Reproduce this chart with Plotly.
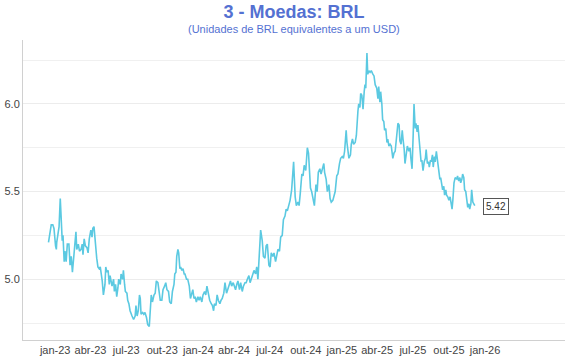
import plotly.graph_objects as go

dates = [
"2022-12-15","2022-12-22","2022-12-26","2022-12-29","2023-01-02","2023-01-04","2023-01-05","2023-01-08","2023-01-11","2023-01-14",
"2023-01-16","2023-01-19","2023-01-21","2023-01-24","2023-01-26","2023-01-29","2023-02-01","2023-02-05","2023-02-08","2023-02-11",
"2023-02-14","2023-02-17","2023-02-20","2023-02-23","2023-02-25","2023-03-01","2023-03-04","2023-03-08","2023-03-11","2023-03-13",
"2023-03-16","2023-03-19","2023-03-23","2023-03-26","2023-03-29","2023-04-02","2023-04-05","2023-04-07","2023-04-10","2023-04-12",
"2023-04-15","2023-04-17","2023-04-20","2023-04-23","2023-04-26","2023-04-28","2023-05-01","2023-05-04","2023-05-08","2023-05-10",
"2023-05-13","2023-05-16","2023-05-19","2023-05-21","2023-05-24","2023-05-26","2023-05-30","2023-06-01","2023-06-04","2023-06-07",
"2023-06-10","2023-06-12","2023-06-16","2023-06-18","2023-06-22","2023-06-24","2023-06-27","2023-06-29","2023-07-03","2023-07-05",
"2023-07-08","2023-07-11","2023-07-16","2023-07-20","2023-07-24","2023-07-26","2023-07-29","2023-08-01","2023-08-04",
"2023-08-06","2023-08-08","2023-08-12","2023-08-15","2023-08-18","2023-08-22","2023-08-25","2023-08-29","2023-08-31","2023-09-03",
"2023-09-06","2023-09-10","2023-09-13","2023-09-16","2023-09-20","2023-09-23","2023-09-26","2023-09-30","2023-10-03","2023-10-07",
"2023-10-10","2023-10-13","2023-10-17","2023-10-20","2023-10-24","2023-10-27","2023-10-31","2023-11-02","2023-11-05","2023-11-07",
"2023-11-10","2023-11-12","2023-11-15","2023-11-17","2023-11-20","2023-11-23","2023-11-26","2023-11-28","2023-12-02","2023-12-05",
"2023-12-09","2023-12-12","2023-12-15","2023-12-18","2023-12-21","2023-12-24","2023-12-27","2023-12-31","2024-01-03","2024-01-06",
"2024-01-10","2024-01-13","2024-01-17","2024-01-20","2024-01-23","2024-01-27","2024-01-30","2024-02-03","2024-02-06","2024-02-09",
"2024-02-11","2024-02-15","2024-02-18","2024-02-21","2024-02-25","2024-02-28","2024-03-02","2024-03-06","2024-03-09","2024-03-13",
"2024-03-16","2024-03-20","2024-03-23","2024-03-26","2024-03-30","2024-04-02",
"2024-04-05","2024-04-08","2024-04-11","2024-04-15","2024-04-18","2024-04-22","2024-04-25","2024-04-29","2024-05-02","2024-05-05",
"2024-05-09","2024-05-12","2024-05-15","2024-05-19","2024-05-22","2024-05-26","2024-05-29","2024-06-01","2024-06-05","2024-06-08",
"2024-06-12","2024-06-15","2024-06-19","2024-06-22","2024-06-25","2024-06-29","2024-07-02","2024-07-05","2024-07-09","2024-07-12",
"2024-07-16","2024-07-19","2024-07-22","2024-07-26","2024-07-29","2024-08-02","2024-08-05","2024-08-09","2024-08-12","2024-08-15",
"2024-08-19","2024-08-22","2024-08-26","2024-08-29","2024-08-31","2024-09-04","2024-09-07","2024-09-11","2024-09-14","2024-09-17",
"2024-09-21","2024-09-24","2024-09-27","2024-10-01","2024-10-05","2024-10-08","2024-10-10","2024-10-13","2024-10-16","2024-10-20",
"2024-10-23",
"2024-10-27","2024-10-30","2024-11-02","2024-11-06","2024-11-09","2024-11-12","2024-11-16","2024-11-18","2024-11-22","2024-11-25",
"2024-11-29","2024-12-02","2024-12-05","2024-12-09","2024-12-12","2024-12-15","2024-12-19","2024-12-22","2024-12-26","2024-12-29",
"2025-01-02","2025-01-05","2025-01-08","2025-01-12","2025-01-14","2025-01-17","2025-01-19","2025-01-23","2025-01-25","2025-01-28",
"2025-01-31","2025-02-04","2025-02-07","2025-02-11","2025-02-13","2025-02-16","2025-02-18","2025-02-21","2025-02-24","2025-02-27",
"2025-03-01","2025-03-03","2025-03-06","2025-03-08","2025-03-11","2025-03-14","2025-03-17","2025-03-21","2025-03-24","2025-03-27",
"2025-03-31","2025-04-03","2025-04-05","2025-04-08","2025-04-10","2025-04-13","2025-04-15","2025-04-18","2025-04-20","2025-04-23",
"2025-04-26","2025-04-28","2025-05-01","2025-05-04",
"2025-05-07","2025-05-11","2025-05-14","2025-05-17","2025-05-21","2025-05-24","2025-05-27","2025-05-29","2025-06-01","2025-06-04",
"2025-06-06","2025-06-09","2025-06-11","2025-06-14","2025-06-17","2025-06-21","2025-06-24","2025-06-26","2025-06-29","2025-07-02",
"2025-07-04","2025-07-07","2025-07-09","2025-07-12","2025-07-14","2025-07-17","2025-07-19","2025-07-22","2025-07-24","2025-07-27",
"2025-07-30","2025-08-02","2025-08-04","2025-08-07","2025-08-10","2025-08-12","2025-08-15","2025-08-17","2025-08-20","2025-08-22",
"2025-08-25","2025-08-27","2025-08-30","2025-09-02","2025-09-05","2025-09-08","2025-09-10","2025-09-13","2025-09-15","2025-09-18",
"2025-09-20","2025-09-23","2025-09-25","2025-09-28","2025-10-01","2025-10-04","2025-10-06","2025-10-09","2025-10-11","2025-10-14",
"2025-10-17","2025-10-21","2025-10-23","2025-10-26","2025-10-29","2025-10-31","2025-11-03","2025-11-05","2025-11-08","2025-11-10",
"2025-11-13","2025-11-16","2025-11-18","2025-11-21","2025-11-23","2025-11-26","2025-11-28","2025-12-01","2025-12-04","2025-12-06",
]

brl = [
5.21,5.31,5.31,5.29,5.19,5.17,5.21,5.27,5.30,5.46,
5.37,5.22,5.25,5.10,5.16,5.10,5.20,5.20,5.08,5.13,
5.04,5.13,5.19,5.27,5.17,5.20,5.16,5.17,5.20,5.14,
5.23,5.19,5.18,5.15,5.23,5.28,5.24,5.29,5.30,5.23,
5.19,5.12,5.07,5.06,5.07,5.04,4.99,4.91,4.97,5.07,
5.04,5.05,4.97,5.02,4.99,4.96,5.00,4.93,4.97,4.90,
4.95,5.00,4.97,5.03,5.00,5.05,4.97,4.93,4.92,4.88,
4.86,4.82,4.79,4.77,4.79,4.85,4.79,4.82,4.91,
4.89,4.80,4.81,4.80,4.81,4.78,4.74,4.73,4.80,4.91,
4.87,4.91,4.92,4.99,4.98,4.92,4.88,4.88,4.94,4.96,
4.98,4.94,4.93,4.87,4.86,4.93,4.97,5.03,5.04,5.13,
5.17,5.15,5.06,5.07,5.05,5.06,5.03,5.03,5.00,5.00,
4.96,4.89,4.91,4.94,4.89,4.90,4.87,4.90,4.88,4.90,
4.87,4.91,4.93,4.91,4.96,4.92,4.88,4.86,4.85,4.82,
4.86,4.85,4.91,4.88,4.86,4.88,4.89,4.92,4.98,4.92,
4.94,4.96,4.99,4.96,4.98,4.96,
4.94,4.97,4.99,4.94,4.98,4.93,4.96,4.98,4.98,5.00,
5.02,4.98,5.00,5.03,5.05,5.03,5.07,5.00,5.13,5.28,
5.22,5.13,5.12,5.19,5.20,5.08,5.07,5.15,5.13,5.15,
5.10,5.13,5.17,5.16,5.24,5.25,5.34,5.36,5.40,5.39,
5.42,5.45,5.51,5.64,5.67,5.47,5.42,5.44,5.42,5.49,
5.60,5.59,5.65,5.62,5.75,5.72,5.66,5.52,5.50,5.46,
5.42,
5.54,5.50,5.61,5.63,5.60,5.63,5.66,5.61,5.57,5.50,
5.54,5.46,5.44,5.45,5.47,5.50,5.59,5.60,5.66,5.69,
5.70,5.69,5.73,5.85,5.78,5.73,5.69,5.71,5.77,5.80,
5.77,5.78,5.82,5.96,6.00,5.98,6.06,6.05,5.97,6.07,
6.11,6.09,6.29,6.17,6.19,6.18,6.19,6.17,6.16,6.11,
6.09,6.03,6.10,6.01,6.07,6.00,5.91,5.90,5.85,5.86,
5.78,5.80,5.76,5.77,
5.76,5.69,5.72,5.73,5.81,5.89,5.88,5.79,5.77,5.85,
5.80,5.74,5.66,5.71,5.76,5.73,5.75,5.69,5.63,5.83,
6.00,5.86,5.89,5.84,5.88,5.80,5.74,5.67,5.68,5.62,
5.67,5.69,5.74,5.66,5.67,5.64,5.68,5.67,5.71,5.64,
5.70,5.67,5.73,5.67,5.60,5.57,5.58,5.55,5.51,5.53,
5.48,5.51,5.48,5.47,5.45,5.47,5.43,5.40,5.45,5.55,
5.58,5.57,5.59,5.56,5.58,5.55,5.57,5.60,5.58,5.51,
5.50,5.43,5.41,5.43,5.40,5.43,5.51,5.44,5.42,5.42,
]

tick_dates = ["2023-01-01","2023-04-01","2023-07-01","2023-10-01","2024-01-01","2024-04-01",
              "2024-07-01","2024-10-01","2025-01-01","2025-04-01","2025-07-01","2025-10-01","2026-01-01"]
tick_labels = ["jan-23","abr-23","jul-23","out-23","jan-24","abr-24","jul-24","out-24",
               "jan-25","abr-25","jul-25","out-25","jan-26"]
y_ticks = [5.0, 5.5, 6.0]
y_tick_labels = ["5.0", "5.5", "6.0"]

title_text = "3 - Moedas: BRL"
subtitle_text = "(Unidades de BRL equivalentes a um USD)"

FONT = "Liberation Sans, Arial, sans-serif"
LINE_COLOR = "#5bc9e1"
TITLE_COLOR = "#5471d2"

fig = go.Figure()
fig.add_trace(go.Scatter(x=dates, y=brl, mode="lines",
                         line=dict(color=LINE_COLOR, width=1.6),
                         hoverinfo="x+y", showlegend=False))

fig.add_annotation(x=dates[-1], y=brl[-1], xref="x", yref="y",
                   text=f"{brl[-1]:.2f}", showarrow=False, xanchor="left", yanchor="middle",
                   xshift=8, yshift=-1, font=dict(family=FONT, size=10, color="#333333"),
                   bgcolor="white", bordercolor="#555555", borderwidth=1, borderpad=2)

# subtitle centred at 29 px from the top; plot area spans 40..340 px
fig.add_annotation(x=0.5, y=(360 - 29 - 20) / 300, xref="paper", yref="paper",
                   text=subtitle_text, showarrow=False, xanchor="center", yanchor="middle",
                   font=dict(family=FONT, size=11, color=TITLE_COLOR))

fig.update_layout(
    width=570, height=360,
    margin=dict(l=23, r=5, t=40, b=20),
    paper_bgcolor="white", plot_bgcolor="white",
    title=dict(text=f"<b>{title_text}</b>", x=0.5, xanchor="center", xref="paper",
               y=1 - 12/360, yanchor="middle", yref="container",
               font=dict(family=FONT, size=18, color=TITLE_COLOR)),
    font=dict(family=FONT, size=11, color="#444444"),
    xaxis=dict(range=["2022-10-11", "2026-07-24"], tickvals=tick_dates, ticktext=tick_labels,
               showgrid=False, showline=True, linecolor="#d0d0d0", linewidth=1,
               ticks="", tickfont=dict(size=11, color="#444444"), zeroline=False),
    yaxis=dict(range=[4.653, 6.365], tickvals=y_ticks, ticktext=y_tick_labels,
               showgrid=True, gridcolor="#ececec", gridwidth=1,
               minor=dict(dtick=0.25, tick0=0, showgrid=True, gridcolor="#f0f0f0", gridwidth=1),
               showline=True, linecolor="#d0d0d0", linewidth=1, ticks="",
               tickfont=dict(size=11, color="#444444"), zeroline=False),
)

fig.write_html("out.html", config={"displayModeBar": False},
               post_script="document.body.style.margin='0';document.body.style.overflow='hidden';")
